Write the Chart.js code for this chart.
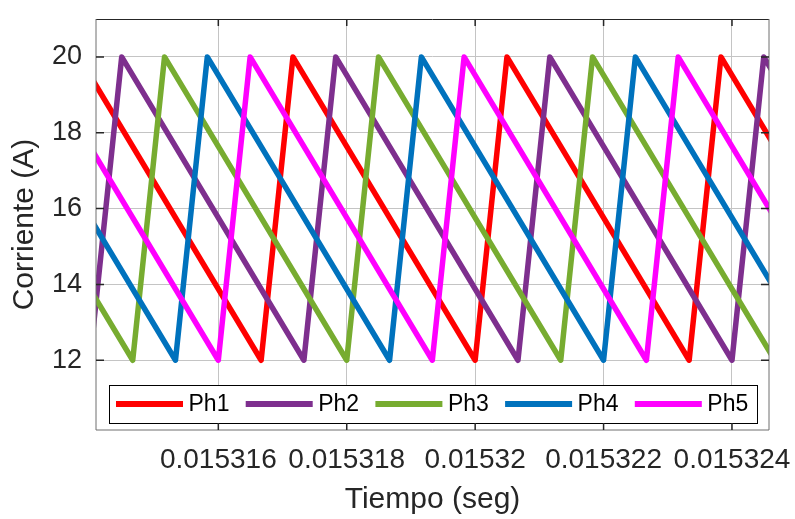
<!DOCTYPE html>
<html lang="es">
<head>
<meta charset="UTF-8">
<title>Corriente por fase</title>
<script src="https://cdn.jsdelivr.net/npm/chart.js"></script>
<style>
  html, body { margin: 0; padding: 0; background: #ffffff; }
  #grafico { display: block; }
</style>
</head>
<body>
<canvas id="grafico" width="795" height="519"></canvas>
<script>
  // vertices de cada rampa: tiempo (s) y corriente (A)
  const fases = ['Ph1', 'Ph2', 'Ph3', 'Ph4', 'Ph5'];
  const colores = ['#ff0000', '#7e2f8e', '#77ac30', '#0072bd', '#ff00ff'];

  const tiempoPh1 = [0.015313333, 0.015313828, 0.015316667, 0.015317162, 0.015320000, 0.015320495, 0.015323333, 0.015323828, 0.015326667];
  const tiempoPh2 = [0.015314000, 0.015314495, 0.015317333, 0.015317828, 0.015320667, 0.015321162, 0.015324000, 0.015324495, 0.015327333];
  const tiempoPh3 = [0.015311333, 0.015311828, 0.015314667, 0.015315162, 0.015318000, 0.015318495, 0.015321333, 0.015321828, 0.015324667];
  const tiempoPh4 = [0.015312000, 0.015312495, 0.015315333, 0.015315828, 0.015318667, 0.015319162, 0.015322000, 0.015322495, 0.015325333];
  const tiempoPh5 = [0.015312667, 0.015313162, 0.015316000, 0.015316495, 0.015319333, 0.015319828, 0.015322667, 0.015323162, 0.015326000];

  const corrientePh1 = [12, 20, 12, 20, 12, 20, 12, 20, 12];
  const corrientePh2 = [12, 20, 12, 20, 12, 20, 12, 20, 12];
  const corrientePh3 = [12, 20, 12, 20, 12, 20, 12, 20, 12];
  const corrientePh4 = [12, 20, 12, 20, 12, 20, 12, 20, 12];
  const corrientePh5 = [12, 20, 12, 20, 12, 20, 12, 20, 12];

  const xTicks = [0.015316, 0.015318, 0.015320, 0.015322, 0.015324];
  const xTickLabels = ['0.015316', '0.015318', '0.01532', '0.015322', '0.015324'];
  const yTicks = [12, 14, 16, 18, 20];

  const tiempos = [tiempoPh1, tiempoPh2, tiempoPh3, tiempoPh4, tiempoPh5];
  const corrientes = [corrientePh1, corrientePh2, corrientePh3, corrientePh4, corrientePh5];

  const fuente = "'Liberation Sans', Arial, Helvetica, sans-serif";
  const gris = '#262626';

  const datasets = fases.map((nombre, i) => ({
    label: nombre,
    data: tiempos[i].map((t, k) => ({ x: t, y: corrientes[i][k] })),
    borderColor: colores[i],
    backgroundColor: colores[i],
    borderWidth: 5.5,
    borderJoinStyle: 'round',
    borderCapStyle: 'round',
    pointRadius: 0,
    tension: 0,
    fill: false,
    clip: 0,
    order: fases.length - i
  }));

  // marco de ejes con marcas hacia dentro y leyenda dentro del area
  const marcoYLeyenda = {
    id: 'marcoYLeyenda',
    afterDraw(chart) {
      const { ctx, chartArea: a, scales: { x, y } } = chart;
      ctx.save();

      // leyenda
      const lx = a.left + 13, lr = a.right - 12, lb = a.bottom - 7, lt = lb - 38;
      ctx.fillStyle = '#ffffff';
      ctx.fillRect(lx, lt, lr - lx, lb - lt);
      ctx.strokeStyle = '#000000';
      ctx.lineWidth = 1;
      ctx.strokeRect(lx + 0.5, lt + 0.5, lr - lx, lb - lt);
      const ly = (lt + lb) / 2;
      ctx.font = '23px ' + fuente;
      ctx.textBaseline = 'middle';
      ctx.textAlign = 'left';
      fases.forEach((nombre, i) => {
        const sx = lx + 7 + i * 129.7;
        ctx.strokeStyle = colores[i];
        ctx.lineWidth = 6;
        ctx.lineCap = 'butt';
        ctx.beginPath();
        ctx.moveTo(sx, ly);
        ctx.lineTo(sx + 67, ly);
        ctx.stroke();
        ctx.fillStyle = '#000000';
        ctx.fillText(nombre, sx + 72.5, ly + 1);
      });

      // caja
      ctx.lineWidth = 1;
      ctx.strokeStyle = gris;
      ctx.beginPath();
      ctx.moveTo(a.left, a.top + 0.5);
      ctx.lineTo(a.right, a.top + 0.5);
      ctx.stroke();
      ctx.strokeStyle = '#6e6e6e';
      ctx.beginPath();
      ctx.moveTo(a.left, a.top);
      ctx.lineTo(a.left, a.bottom);
      ctx.lineTo(a.right, a.bottom);
      ctx.lineTo(a.right, a.top);
      ctx.stroke();

      // marcas
      ctx.strokeStyle = gris;
      ctx.lineWidth = 1.5;
      ctx.beginPath();
      xTicks.forEach(v => {
        const px = x.getPixelForValue(v);
        ctx.moveTo(px, a.top); ctx.lineTo(px, a.top + 7);
        ctx.moveTo(px, a.bottom); ctx.lineTo(px, a.bottom - 7);
      });
      yTicks.forEach(v => {
        const py = y.getPixelForValue(v);
        ctx.moveTo(a.left, py); ctx.lineTo(a.left + 8, py);
        ctx.moveTo(a.right, py); ctx.lineTo(a.right - 8, py);
      });
      ctx.stroke();
      ctx.restore();
    }
  };

  new Chart(document.getElementById('grafico').getContext('2d'), {
    type: 'line',
    data: { datasets },
    plugins: [marcoYLeyenda],
    options: {
      responsive: false,
      devicePixelRatio: 1,
      animation: false,
      layout: { padding: { top: 19, right: 26, left: 0, bottom: 0 } },
      plugins: { legend: { display: false }, tooltip: { enabled: false } },
      scales: {
        x: {
          type: 'linear',
          min: 0.015314095,
          max: 0.0153245763,
          afterBuildTicks: s => { s.ticks = xTicks.map(v => ({ value: v })); },
          afterFit: s => { s.height = 89; s.paddingLeft = 0; s.paddingRight = 0; },
          grid: { color: '#c4c4c4', lineWidth: 1, drawTicks: false },
          border: { display: false },
          ticks: {
            padding: 13,
            color: gris,
            font: { family: fuente, size: 28 },
            maxRotation: 0,
            autoSkip: false,
            callback: (v, i) => xTickLabels[i]
          },
          title: {
            display: true,
            text: 'Tiempo (seg)',
            color: gris,
            font: { family: fuente, size: 30, lineHeight: 1 },
            padding: { top: 0, bottom: 4 }
          }
        },
        y: {
          min: 10.16,
          max: 21,
          afterBuildTicks: s => { s.ticks = yTicks.map(v => ({ value: v })); },
          afterFit: s => { s.width = 96; s.paddingTop = 0; s.paddingBottom = 0; },
          grid: { color: '#c4c4c4', lineWidth: 1, drawTicks: false },
          border: { display: false },
          ticks: {
            padding: 14,
            color: gris,
            font: { family: fuente, size: 27 },
            callback: v => String(v)
          },
          title: {
            display: true,
            text: 'Corriente (A)',
            color: gris,
            font: { family: fuente, size: 30, lineHeight: 1 },
            padding: { top: 10, bottom: 0 }
          }
        }
      }
    }
  });
</script>
</body>
</html>
